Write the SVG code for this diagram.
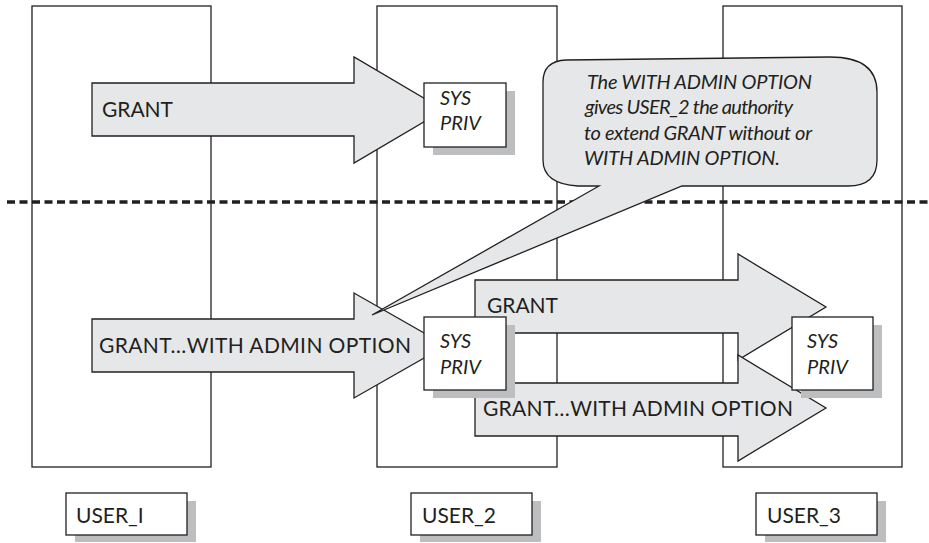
<svg xmlns="http://www.w3.org/2000/svg" width="929" height="543" viewBox="0 0 929 543">
<style>
.col{fill:#ffffff;stroke:#231f20;stroke-width:1.3}
.arrow{fill:#e6e7e8;stroke:#231f20;stroke-width:1.3;stroke-linejoin:miter}
.box{fill:#ffffff;stroke:#231f20;stroke-width:1.3}
.shadow{fill:#bcbec0}
.t{font-family:Lato,"Liberation Sans",sans-serif;font-size:21px;fill:#231f20}
.it{font-family:Lato,"Liberation Sans",sans-serif;font-size:20px;font-style:italic;fill:#231f20}
.dash{stroke:#231f20;stroke-width:3.5;stroke-dasharray:8 4.5;fill:none}
</style>
<rect width="929" height="543" fill="#ffffff"/>
<g id="columns">
<rect id="col-user1" class="col" x="32" y="6" width="179" height="461"/>
<rect id="col-user2" class="col" x="377" y="6" width="180" height="461"/>
<rect id="col-user3" class="col" x="723" y="6" width="179" height="461"/>
</g>
<g id="separator">
<line class="dash" x1="7" y1="202" x2="929" y2="202"/>
</g>
<g id="connectors">
<g id="arrow-grant-top">
<polygon class="arrow" points="92,83 354,83 354,57 444,110 354,163 354,136 92,136"/>
<text class="t" x="102" y="117" textLength="71">GRANT</text>
</g>
<g id="arrow-grant-admin-1">
<polygon class="arrow" points="92,319 354,319 354,293 446,345.5 354,398 354,372 92,372"/>
<text class="t" x="99" y="353" textLength="312">GRANT…WITH ADMIN OPTION</text>
</g>
<g id="arrow-grant-2">
<polygon class="arrow" points="475,280 738,280 738,254 826,307 738,360 738,333 475,333"/>
<text class="t" x="487" y="313" textLength="71">GRANT</text>
</g>
<g id="arrow-grant-admin-2">
<polygon class="arrow" points="475,383 738,383 738,355 826,408 738,461 738,436 475,436"/>
<text class="t" x="483" y="416" textLength="310">GRANT…WITH ADMIN OPTION</text>
</g>
</g>
<g id="sys-priv-top">
<rect class="shadow" x="433" y="91" width="82" height="64"/>
<rect class="box" x="424" y="83" width="82" height="64"/>
<text class="it" x="440" y="105">SYS</text>
<text class="it" x="440" y="130">PRIV</text>
</g>
<g id="sys-priv-user2">
<rect class="shadow" x="433" y="325" width="82" height="73"/>
<rect class="box" x="424" y="317" width="82" height="73"/>
<text class="it" x="440" y="348">SYS</text>
<text class="it" x="440" y="374">PRIV</text>
</g>
<g id="sys-priv-user3">
<rect class="shadow" x="801" y="325" width="81" height="73"/>
<rect class="box" x="792" y="317" width="81" height="73"/>
<text class="it" x="807" y="348">SYS</text>
<text class="it" x="807" y="374">PRIV</text>
</g>
<g id="callout">
<path class="arrow" d="M543,82 Q543,61 566,60 L830,57 Q877,57 877,92 L877,160 Q877,186 848,186 L682,186 L372,315 L599,186 L578,186 Q543,184 543,160 Z"/>
<text class="it" x="587" y="89" textLength="225">The WITH ADMIN OPTION</text>
<text class="it" x="585" y="114" textLength="208">gives USER_2 the authority</text>
<text class="it" x="584" y="140" textLength="228">to extend GRANT without or</text>
<text class="it" x="584" y="165" textLength="196">WITH ADMIN OPTION.</text>
</g>
<g id="user1">
<rect class="shadow" x="75" y="501" width="121" height="41"/>
<rect class="box" x="66" y="493" width="121" height="42"/>
<text class="t" x="76" y="523">USER_I</text>
</g>
<g id="user2">
<rect class="shadow" x="420" y="501" width="121" height="41"/>
<rect class="box" x="411" y="493" width="121" height="42"/>
<text class="t" x="422" y="523">USER_2</text>
</g>
<g id="user3">
<rect class="shadow" x="765" y="501" width="121" height="41"/>
<rect class="box" x="756" y="493" width="121" height="42"/>
<text class="t" x="767" y="523">USER_3</text>
</g>
</svg>
